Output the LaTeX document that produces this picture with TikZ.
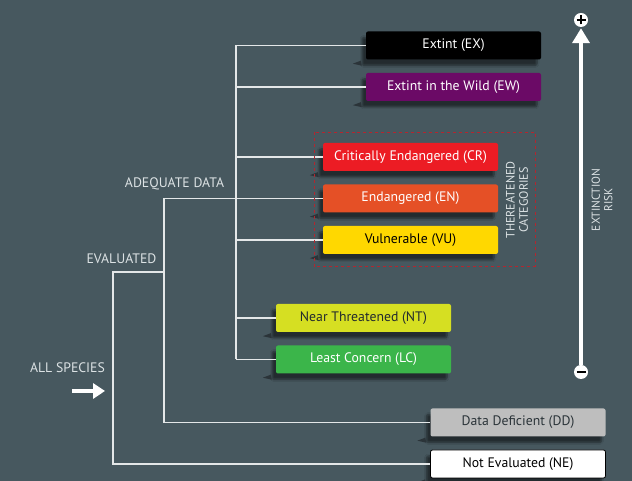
\documentclass[tikz,border=0pt]{standalone}
\usepackage{fontspec}
\setmainfont{PT Sans}
\usepackage{tikz}
\usetikzlibrary{arrows.meta,positioning,shadows.blur,calc}

\definecolor{slate}{HTML}{47585F}
\definecolor{ink}{HTML}{2B3439}
\definecolor{paleline}{HTML}{E4E7E8}
\definecolor{paletext}{HTML}{DCE2E4}
\definecolor{cEX}{HTML}{000000}
\definecolor{cEW}{HTML}{6B0A66}
\definecolor{cCR}{HTML}{EC1C24}
\definecolor{cEN}{HTML}{E55026}
\definecolor{cVU}{HTML}{FFD800}
\definecolor{cNT}{HTML}{D6DF22}
\definecolor{cLC}{HTML}{3BB54A}
\definecolor{cDD}{HTML}{BEBEBE}
\definecolor{dashred}{HTML}{B3262F}

\tikzset{
  tile/.style={rounded corners=2bp, minimum width=175bp, minimum height=28bp,
    inner sep=0pt, font=\fontsize{13.8}{15}\selectfont,
    blur shadow={shadow xshift=-4bp, shadow yshift=-6bp, shadow opacity=50, shadow blur steps=6}},
  link/.style={draw=paleline, line width=1.1bp, -},
  caption/.style={text=paletext, font=\fontsize{13.8}{15}\selectfont, inner sep=0pt},
  sidecap/.style={text=paletext, align=center, rotate=90, inner sep=0pt},
  tipmark/.style={fill=ink},
  sign/.style={circle, fill=white, minimum size=14bp, inner sep=0pt}
}

\begin{document}
\begin{tikzpicture}[x=1bp, y=1bp, node distance=41.5bp]
  \fill[slate] (0,0) rectangle (632,481);
  \useasboundingbox (0,0) rectangle (632,481);

  % categories
  \node [tile, fill=cEX, text=white] (ex) at (453.5,435.5) {Extint (EX)};
  \node [tile, fill=cEW, text=white, below of=ex] (ew) {Extint in the Wild (EW)};
  \node [tile, fill=cCR, text=white] (cr) at (410.5,324) {Critically Endangered (CR)};
  \node [tile, fill=cEN, text=white, below of=cr] (en) {Endangered (EN)};
  \node [tile, fill=cVU, text=black, below of=en] (vu) {Vulnerable (VU)};
  \node [tile, fill=cNT, text=ink!80!black] (nt) at (363.5,163) {Near Threatened (NT)};
  \node [tile, fill=cLC, text=white, below of=nt] (lc) {Least Concern (LC)};
  \node [tile, fill=cDD, text=ink] (dd) at (518,58.5) {Data Deficient (DD)};
  \node [tile, fill=white, draw=black, line width=0.8bp, text=black, below of=dd] (ne) {Not Evaluated (NE)};

  \foreach \n in {ex,ew,cr,en,vu,nt,lc,dd,ne}
    \fill[tipmark] ($(\n.south west)+(-13,-4)$) -- ++(8,3) -- ++(1,-5) -- cycle;

  % tree
  \coordinate (trunkA) at (236,0);
  \coordinate (trunkB) at (164,0);
  \coordinate (trunkC) at (113,0);
  \coordinate (evalj) at (164,209);

  \draw[link] (ex.west -| trunkA) -- (lc.west -| trunkA);
  \foreach \n in {ex,ew,cr,en,vu,nt,lc}
    \draw[link] (\n.west -| trunkA) -- (\n.west);
  \draw[link] (en.west -| trunkA) -- (en.west -| trunkB) |- (dd.west);
  \draw[link] (evalj) -- (evalj -| trunkC) |- (ne.west);

  \node [caption] (adq) at (174.5,297) {ADEQUATE DATA};
  \node [caption] (evl) at (121.5,222) {EVALUATED};
  \node [caption] (all) at (67.5,113) {ALL SPECIES};
  \coordinate (allL) at (72,90);
  \coordinate (allR) at (105,90);
  \draw[white, line width=4bp, -{Triangle[width=15bp,length=12bp]}] (allL) -- (allR);

  % threatened group
  \node [sidecap, font=\fontsize{12.2}{13.5}\selectfont] (thr) at (517,281) {THEREATENED\\CATEGORIES};
  \draw[dashred, dashed, line width=0.7bp] (314,349) rectangle (535,215);

  % risk axis
  \node [sign] (plus) at (581,461) {};
  \node [sign] (minus) at (581,109) {};
  \draw[black, line width=1.8bp] ($(plus)+(-4.5,0)$) -- ($(plus)+(4.5,0)$)
    ($(plus)+(0,-4.5)$) -- ($(plus)+(0,4.5)$);
  \draw[black, line width=1.8bp] ($(minus)+(-4.5,0)$) -- ($(minus)+(4.5,0)$);
  \draw[white, line width=4bp, -{Triangle[width=17bp,length=15bp]}] (minus.north) -- ($(plus.south)+(0,-1)$);
  \node [sidecap, font=\fontsize{11.6}{12.5}\selectfont] (risk) at (602,281) {EXTINCTION\\RISK};
\end{tikzpicture}
\end{document}
